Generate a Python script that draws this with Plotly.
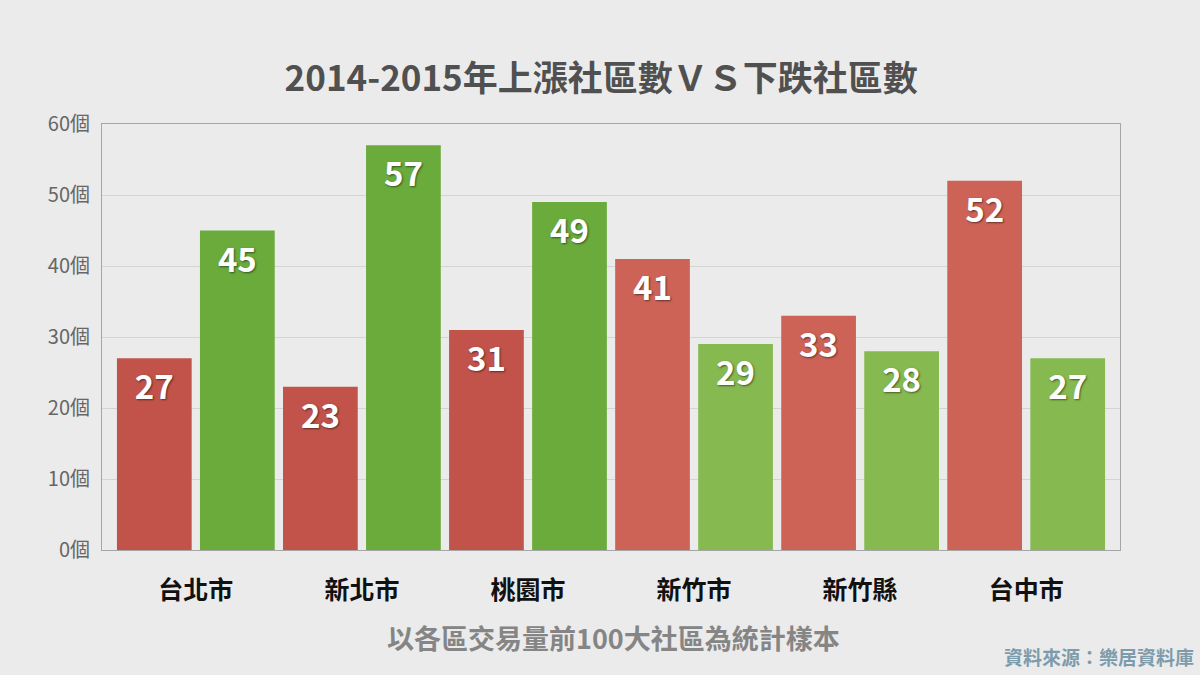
import plotly.graph_objects as go

categories = ["台北市", "新北市", "桃園市", "新竹市", "新竹縣", "台中市"]
rise_counts = [27, 23, 31, 41, 33, 52]
fall_counts = [45, 57, 49, 29, 28, 27]
y_ticks = [0, 10, 20, 30, 40, 50, 60]
y_tick_labels = [f"{v}個" for v in y_ticks]

title_text = "2014-2015年上漲社區數ＶＳ下跌社區數"
subtitle_text = "以各區交易量前100大社區為統計樣本"
source_text = "資料來源：樂居資料庫"

red_colors = ["#c1534a", "#c1534a", "#c1534a", "#cd6357", "#cd6357", "#cd6357"]
green_colors = ["#6aab3c", "#6aab3c", "#6aab3c", "#86b94f", "#86b94f", "#86b94f"]

FONT = "Noto Sans CJK TC"
label_font = dict(family=FONT, size=33, color="white", weight="bold",
                  shadow="1px 1px 2px rgba(0,0,0,0.5)")

fig = go.Figure()
fig.add_trace(go.Bar(
    x=categories, y=rise_counts, name="上漲",
    marker=dict(color=red_colors, line=dict(width=0)),
    text=[str(v) for v in rise_counts], textposition="inside",
    insidetextanchor="end", textfont=label_font, textangle=0,
    hoverinfo="x+y",
))
fig.add_trace(go.Bar(
    x=categories, y=fall_counts, name="下跌",
    marker=dict(color=green_colors, line=dict(width=0)),
    text=[str(v) for v in fall_counts], textposition="inside",
    insidetextanchor="end", textfont=label_font, textangle=0,
    hoverinfo="x+y",
))

fig.update_layout(
    width=1200, height=675,
    paper_bgcolor="#ebebeb", plot_bgcolor="#ebebeb",
    margin=dict(l=102, r=80, t=124, b=125),
    barmode="group", bargap=0.0, bargroupgap=0.1,
    showlegend=False,
    uniformtext=dict(mode=False),
    title=dict(text=title_text, x=0.501, xanchor="center", y=0.884, yanchor="middle",
               font=dict(family=FONT, size=35, color="#505050", weight="bold")),
    font=dict(family=FONT),
)
fig.update_xaxes(
    range=[-0.565, 5.565], showgrid=False,
    showline=True, linecolor="#a6a6a6", linewidth=1, mirror=True,
    ticks="", tickfont=dict(family=FONT, size=25, color="#111111", weight="bold"),
    ticklabelstandoff=18,
)
fig.update_yaxes(
    range=[0, 60], tickvals=y_ticks, ticktext=y_tick_labels,
    showgrid=True, gridcolor="#d4d4d4", gridwidth=1,
    showline=True, linecolor="#a6a6a6", linewidth=1, mirror=True,
    zeroline=False, ticks="",
    tickfont=dict(family=FONT, size=20, color="#666666"),
    ticklabelstandoff=7,
)

fig.add_annotation(text=subtitle_text, xref="paper", yref="paper",
                   x=0.502, y=-0.205, xanchor="center", yanchor="middle", showarrow=False,
                   font=dict(family=FONT, size=27, color="#858585", weight="bold"))
fig.add_annotation(text=source_text, xref="paper", yref="paper",
                   x=1.075, y=-0.25, xanchor="right", yanchor="middle", showarrow=False,
                   font=dict(family=FONT, size=19, color="#7d9cab", weight="bold"))

fig.write_html("out.html")
